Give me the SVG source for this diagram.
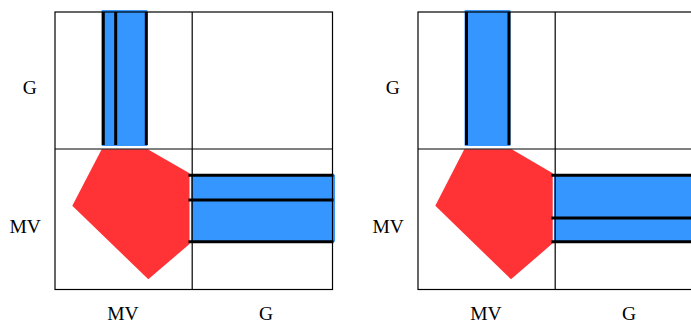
<svg xmlns="http://www.w3.org/2000/svg" width="691" height="323" viewBox="0 0 691 323">
<style>
.frame{fill:none;stroke:#000;stroke-width:1.2}
.grid{stroke:#000;stroke-width:1.2}
.band{fill:#3596ff}
.edge{stroke:#000;stroke-width:3;stroke-linecap:butt}
.blob{fill:#ff3236}
.lbl{font-family:'Liberation Serif','Times New Roman',serif;font-size:19.5px;fill:#000;text-anchor:middle}
</style>
<rect width="691" height="323" fill="#fff"/>
<g id="panel-left">
  <rect class="band" x="101.5" y="10" width="46" height="136" rx="1"/>
  <rect class="band" x="191" y="174.5" width="144" height="67.5" rx="1"/>
  <polygon class="blob" points="101.7,149.3 147.7,149.3 189.5,173.3 189.5,244 148.3,279.3 72.3,205.7"/>
  <g class="edges">
    <line class="edge" x1="103.3" y1="12" x2="103.3" y2="145"/>
    <line class="edge" x1="115.7" y1="12" x2="115.7" y2="145"/>
    <line class="edge" x1="146.3" y1="12" x2="146.3" y2="145"/>
    <line class="edge" x1="188.5" y1="175.3" x2="333.5" y2="175.3"/>
    <line class="edge" x1="188.5" y1="200" x2="333.5" y2="200"/>
    <line class="edge" x1="188.5" y1="241.7" x2="333.5" y2="241.7"/>
  </g>
  <rect class="frame" x="55" y="12" width="277.5" height="277.5"/>
  <line class="grid" x1="192.2" y1="12" x2="192.2" y2="289.5"/>
  <line class="grid" x1="55" y1="149" x2="332.5" y2="149"/>
  <text class="lbl" x="29.7" y="94">G</text>
  <text class="lbl" x="25.2" y="232.7">MV</text>
  <text class="lbl" x="123" y="320">MV</text>
  <text class="lbl" x="266" y="320">G</text>
</g>
<g id="panel-right">
  <rect class="band" x="464.5" y="10" width="46" height="136" rx="1"/>
  <rect class="band" x="554" y="174.5" width="140" height="67.5" rx="1"/>
  <polygon class="blob" points="464.3,149.3 511.7,149.3 552.7,173.3 552.7,243.3 511,279.3 435.3,205.7"/>
  <g class="edges">
    <line class="edge" x1="466.5" y1="12" x2="466.5" y2="145"/>
    <line class="edge" x1="509" y1="12" x2="509" y2="145"/>
    <line class="edge" x1="551.5" y1="175.3" x2="691" y2="175.3"/>
    <line class="edge" x1="551.5" y1="218" x2="691" y2="218"/>
    <line class="edge" x1="551.5" y1="241.7" x2="691" y2="241.7"/>
  </g>
  <rect class="frame" x="418" y="12" width="277.5" height="277.5"/>
  <line class="grid" x1="555.2" y1="12" x2="555.2" y2="289.5"/>
  <line class="grid" x1="418" y1="149" x2="695.5" y2="149"/>
  <text class="lbl" x="392.7" y="94">G</text>
  <text class="lbl" x="388.2" y="232.7">MV</text>
  <text class="lbl" x="486" y="320">MV</text>
  <text class="lbl" x="629" y="320">G</text>
</g>
</svg>
